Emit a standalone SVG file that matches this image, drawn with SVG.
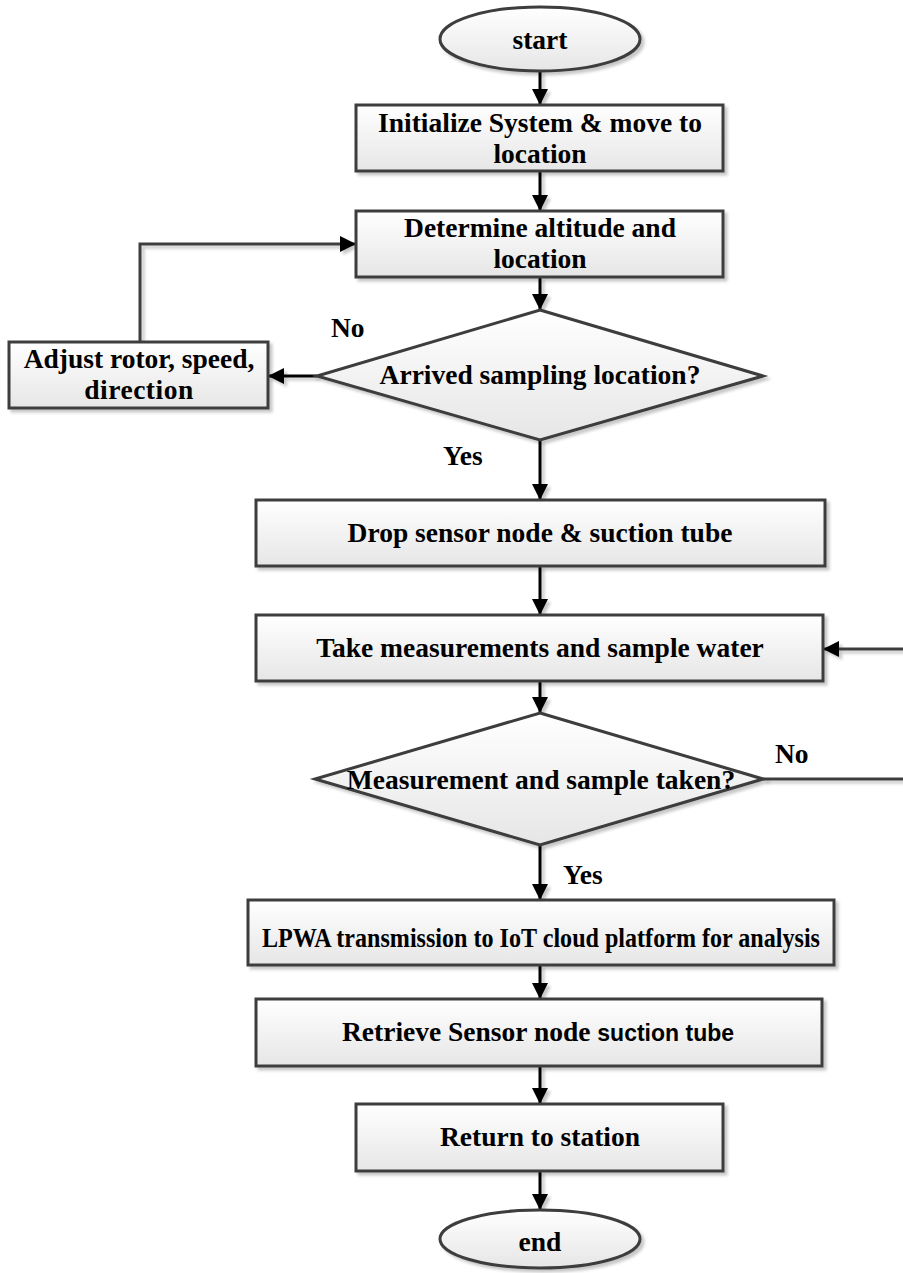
<svg xmlns="http://www.w3.org/2000/svg" width="903" height="1273" viewBox="0 0 903 1273">
<defs>
  <linearGradient id="g" x1="0" y1="0" x2="0" y2="1">
    <stop offset="0" stop-color="#ffffff"/>
    <stop offset="1" stop-color="#e6e6e6"/>
  </linearGradient>
  <filter id="sh" x="-10%" y="-10%" width="130%" height="140%">
    <feDropShadow dx="3" dy="3" stdDeviation="1.5" flood-color="#000" flood-opacity="0.22"/>
  </filter>
  <marker id="ah" markerUnits="userSpaceOnUse" markerWidth="18" markerHeight="18" refX="16" refY="8" orient="auto" viewBox="0 0 18 18">
    <path d="M0,0 L16,8 L0,16 z" fill="#000"/>
  </marker>
  <style>
    .n { fill: url(#g); stroke: #3c3c3c; stroke-width: 3; filter: url(#sh); }
    .t { font-family: "Liberation Serif", "Times New Roman", serif; font-weight: bold; font-size: 27.5px; fill: #000; text-anchor: middle; }
    .l { font-family: "Liberation Serif", "Times New Roman", serif; font-weight: bold; font-size: 27.5px; fill: #000; }
    .c { fill: none; stroke: #000; stroke-width: 3; }
    .cg { fill: none; stroke: #3c3c3c; stroke-width: 3; }
  </style>
</defs>
<rect width="903" height="1273" fill="#fff"/>

<g id="connectors" filter="url(#sh)">
  <line class="c" x1="540" y1="71" x2="540" y2="105" marker-end="url(#ah)"/>
  <line class="c" x1="540" y1="171" x2="540" y2="211" marker-end="url(#ah)"/>
  <line class="c" x1="540" y1="277" x2="540" y2="310" marker-end="url(#ah)"/>
  <line class="c" x1="317" y1="376" x2="268" y2="376" marker-end="url(#ah)"/>
  <polyline class="cg" points="140,342 140,244 356,244" marker-end="url(#ah)"/>
  <line class="c" x1="540" y1="440" x2="540" y2="500" marker-end="url(#ah)"/>
  <line class="c" x1="540" y1="566" x2="540" y2="615" marker-end="url(#ah)"/>
  <line class="c" x1="540" y1="681" x2="540" y2="713" marker-end="url(#ah)"/>
  <polyline class="cg" points="763,779 908,779 908,649 823,649" marker-end="url(#ah)"/>
  <line class="c" x1="540" y1="845" x2="540" y2="900" marker-end="url(#ah)"/>
  <line class="c" x1="540" y1="965" x2="540" y2="999" marker-end="url(#ah)"/>
  <line class="c" x1="540" y1="1066" x2="540" y2="1104" marker-end="url(#ah)"/>
  <line class="c" x1="540" y1="1171" x2="540" y2="1210" marker-end="url(#ah)"/>
</g>

<g id="start">
  <ellipse class="n" cx="540" cy="39" rx="100" ry="32"/>
  <text class="t" x="540" y="49">start</text>
</g>

<g id="init">
  <rect class="n" x="356" y="105" width="367" height="66"/>
  <text class="t" x="540" y="132">Initialize System &amp; move to</text>
  <text class="t" x="540" y="163">location</text>
</g>

<g id="determine">
  <rect class="n" x="356" y="211" width="367" height="66"/>
  <text class="t" x="540" y="237">Determine altitude and</text>
  <text class="t" x="540" y="268">location</text>
</g>

<g id="arrived">
  <polygon class="n" points="540,310 763,376 540,440 317,376"/>
  <text class="t" x="540" y="384">Arrived sampling location?</text>
</g>

<g id="adjust">
  <rect class="n" x="9" y="342" width="259" height="66"/>
  <text class="t" x="139" y="368">Adjust rotor, speed,</text>
  <text class="t" x="139" y="399" letter-spacing="0.5">direction</text>
</g>

<g id="drop">
  <rect class="n" x="256" y="500" width="569" height="66"/>
  <text class="t" x="540" y="542">Drop sensor node &amp; suction tube</text>
</g>

<g id="measure">
  <rect class="n" x="256" y="615" width="567" height="66"/>
  <text class="t" x="540" y="657">Take measurements and sample water</text>
</g>

<g id="taken">
  <polygon class="n" points="540,713 763,779 540,845 315,779"/>
  <text class="t" x="541" y="789">Measurement and sample taken?</text>
</g>

<g id="lpwa">
  <rect class="n" x="248" y="900" width="586" height="65"/>
  <text class="t" x="541" y="947" textLength="558" lengthAdjust="spacingAndGlyphs">LPWA transmission to IoT cloud platform for analysis</text>
</g>

<g id="retrieve">
  <rect class="n" x="256" y="999" width="566" height="67"/>
  <text class="t" x="538" y="1041">Retrieve Sensor node <tspan font-family="'Liberation Sans', Arial, sans-serif" font-size="23px">suction tube</tspan></text>
</g>

<g id="return">
  <rect class="n" x="356" y="1104" width="367" height="67"/>
  <text class="t" x="540" y="1146">Return to station</text>
</g>

<g id="end">
  <ellipse class="n" cx="540" cy="1239" rx="100" ry="29"/>
  <text class="t" x="540" y="1251">end</text>
</g>

<g id="labels">
  <text class="l" x="331" y="337">No</text>
  <text class="l" x="443" y="465">Yes</text>
  <text class="l" x="775" y="763">No</text>
  <text class="l" x="563" y="884">Yes</text>
</g>
</svg>
